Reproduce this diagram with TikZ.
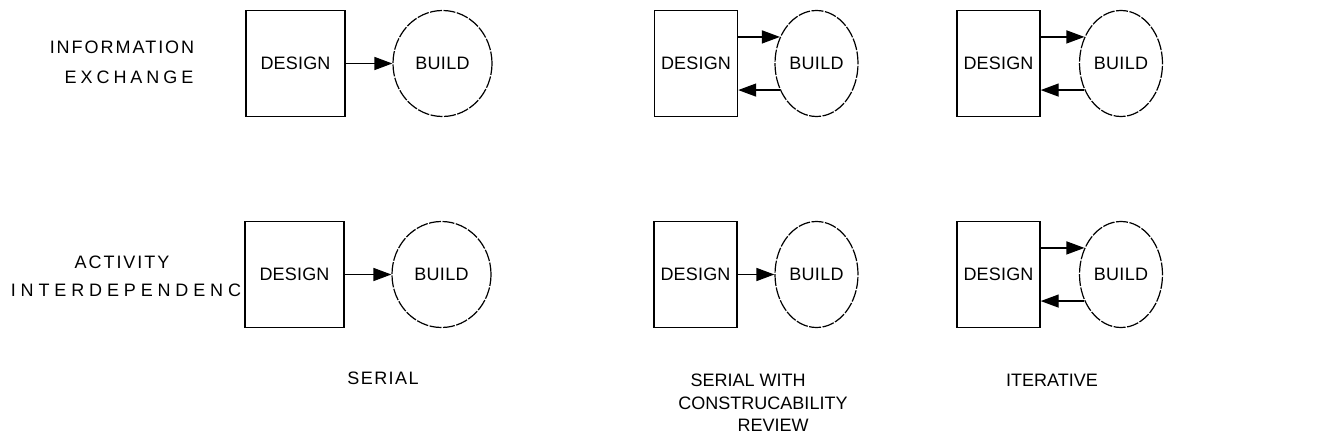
\documentclass[tikz,border=0pt]{standalone}
\usepackage{fontspec}
\setmainfont{Liberation Sans}
\usetikzlibrary{shapes.geometric,arrows.meta}
\newcommand\lsp[2]{{\addfontfeature{LetterSpace=#1}#2}}
\begin{document}
\begin{tikzpicture}[x=1pt,y=-1pt,
  every node/.style={font=\fontsize{18}{22}\selectfont, inner sep=0pt},
  dbox/.style={draw, line width=1.4pt, rectangle, minimum height=106pt},
  bell/.style={draw, line width=1.2pt, ellipse, minimum height=106pt, dash pattern=on 12pt off 1.5pt},
  arr/.style={line width=1.4pt, -{Triangle[length=18pt,width=13pt]}},
  lab/.style={text=black}
]
\useasboundingbox (0,0) rectangle (1320,443);

% left labels
\node[lab] (info) at (122,47) {\lsp{11}{INFORMATION}};
\node[lab] (exch) at (129,77) {\lsp{22}{EXCHANGE}};
\node[lab] (act) at (122,262) {\lsp{11}{ACTIVITY}};
\node[lab] (inter) at (126,290) {\lsp{27}{INTERDEPENDENC}};

% column A
\node[dbox, minimum width=99pt] (dA1) at (295.5,63.5) {\lsp{1}{DESIGN}};
\node[bell, minimum width=99pt] (bA1) at (442.5,63.5) {\lsp{2}{BUILD}};
\draw[arr] (dA1.east) -- (bA1.west);

\node[dbox, minimum width=99pt] (dA2) at (294.5,274.5) {\lsp{1}{DESIGN}};
\node[bell, minimum width=99pt] (bA2) at (441.5,274.5) {\lsp{2}{BUILD}};
\draw[arr] (dA2.east) -- (bA2.west);

% column B
\node[dbox, minimum width=83pt] (dB1) at (696,63.5) {\lsp{1}{DESIGN}};
\node[bell, minimum width=83pt] (bB1) at (816.5,63.5) {\lsp{2}{BUILD}};
\draw[arr] (dB1.east |- bB1.144) -- (bB1.144);
\draw[arr] (bB1.216) -- (dB1.east |- bB1.216);

\node[dbox, minimum width=83pt] (dB2) at (695.5,274.5) {\lsp{1}{DESIGN}};
\node[bell, minimum width=83pt] (bB2) at (816.5,274.5) {\lsp{2}{BUILD}};
\draw[arr] (dB2.east) -- (bB2.west);

% column C
\node[dbox, minimum width=83pt] (dC1) at (998.5,63.5) {\lsp{1}{DESIGN}};
\node[bell, minimum width=83pt] (bC1) at (1121,63.5) {\lsp{2}{BUILD}};
\draw[arr] (dC1.east |- bC1.144) -- (bC1.144);
\draw[arr] (bC1.216) -- (dC1.east |- bC1.216);

\node[dbox, minimum width=83pt] (dC2) at (998.5,274.5) {\lsp{1}{DESIGN}};
\node[bell, minimum width=83pt] (bC2) at (1121,274.5) {\lsp{2}{BUILD}};
\draw[arr] (dC2.east |- bC2.144) -- (bC2.144);
\draw[arr] (bC2.216) -- (dC2.east |- bC2.216);

% bottom labels
\node[lab] (serial) at (383,378) {\lsp{8}{SERIAL}};
\node[lab] (sw1) at (748,380) {SERIAL WITH};
\node[lab] (sw2) at (763,403) {CONSTRUCABILITY};
\node[lab] (sw3) at (773,425) {REVIEW};
\node[lab] (iter) at (1052,380) {ITERATIVE};
\end{tikzpicture}
\end{document}
